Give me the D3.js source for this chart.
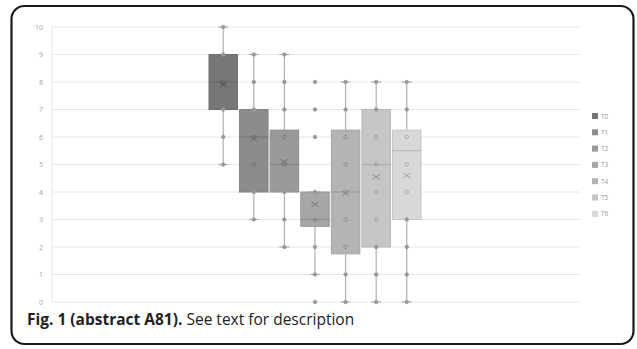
<!DOCTYPE html>
<html><head><meta charset="utf-8">
<script src="https://cdn.jsdelivr.net/npm/d3@7"></script>
<style>body{margin:0;background:#fff;}svg{display:block;}</style>
</head><body>
<svg id="c" width="637" height="349"></svg>
<script>
const series = ["T0","T1","T2","T3","T4","T5","T6"];
const q1     = [7, 4, 4, 2.75, 1.75, 2, 3];
const median = [8, 6, 5, 3, 4, 5, 5.5];
const q3     = [9, 7, 6.25, 4, 6.25, 7, 6.25];
const means  = [7.9, 5.95, 5.1, 3.55, 3.95, 4.55, 4.6];
const whiskLo= [5, 3, 2, 1, 0, 0, 0];
const whiskHi= [10, 9, 9, 4, 8, 8, 8];
const points = [
  [5,6,7,8,9,10],
  [3,4,5,6,7,8,9],
  [2,3,4,5,6,7,8,9],
  [0,1,2,3,4,6,7,8],
  [0,1,2,3,4,5,6,7,8],
  [0,1,2,3,4,5,6,7,8],
  [0,1,2,3,4,5,6,7,8]
];
const colors = ["#777777","#8c8c8c","#999999","#a6a6a6","#b4b4b4","#c6c6c6","#d8d8d8"];
const yTicks = [0,1,2,3,4,5,6,7,8,9,10];

const svg = d3.select("#c");
svg.append("rect").attr("x",11.5).attr("y",6).attr("width",622).attr("height",338)
  .attr("rx",13).attr("fill","#fff").attr("stroke","#1a1a1a").attr("stroke-width",2.2);

const pL=52, pR=580, pT=27, pB=302;
const y = d3.scaleLinear().domain([0,10]).range([pB,pT]);
const x = d3.scaleBand().domain(series).range([209, 421]).paddingInner(0.07);

svg.append("g").selectAll("line").data(yTicks).join("line")
  .attr("x1",pL).attr("x2",pR).attr("y1",d=>y(d)).attr("y2",d=>y(d))
  .attr("stroke","#e6e6e6").attr("stroke-width",1);
svg.append("line").attr("x1",pL).attr("x2",pL).attr("y1",pT).attr("y2",pB)
  .attr("stroke","#e6e6e6");

const ax = svg.append("g").attr("transform",`translate(${pL},0)`)
  .call(d3.axisLeft(y).tickValues(yTicks).tickSize(0).tickPadding(9));
ax.select(".domain").remove();
ax.selectAll("text").attr("fill","#a0a0a0").style("font-family","Open Sans, sans-serif").style("font-size","7px");

series.forEach((s,i)=>{
  const g = svg.append("g");
  const cx = x(s)+x.bandwidth()/2, w = x.bandwidth();
  const wc = "#b0b0b0";
  g.append("line").attr("x1",cx).attr("x2",cx).attr("y1",y(whiskHi[i])).attr("y2",y(q3[i])).attr("stroke",wc).attr("stroke-width",1.2);
  g.append("line").attr("x1",cx).attr("x2",cx).attr("y1",y(q1[i])).attr("y2",y(whiskLo[i])).attr("stroke",wc).attr("stroke-width",1.2);
  [whiskHi[i],whiskLo[i]].forEach(v=>g.append("line").attr("x1",cx-5).attr("x2",cx+5).attr("y1",y(v)).attr("y2",y(v)).attr("stroke",wc).attr("stroke-width",1.2));
  g.append("rect").attr("x",x(s)).attr("y",y(q3[i])).attr("width",w).attr("height",y(q1[i])-y(q3[i]))
    .attr("fill",colors[i]).attr("stroke",d3.color(colors[i]).darker(0.25)).attr("stroke-width",1);
  g.append("line").attr("x1",x(s)).attr("x2",x(s)+w).attr("y1",y(median[i])).attr("y2",y(median[i]))
    .attr("stroke",d3.color(colors[i]).darker(0.5)).attr("stroke-width",1);
  g.selectAll("circle").data(points[i]).join("circle")
    .attr("cx",cx).attr("cy",d=>y(d)).attr("r",1.8)
    .attr("fill",d=> (d>q1[i] && d<q3[i]) ? "none" : "#999999")
    .attr("stroke",d=> (d>q1[i] && d<q3[i]) ? d3.color(colors[i]).darker(0.8) : "#999999").attr("stroke-width",0.8);
  const my=y(means[i]), m=3.5;
  const mc = d3.color(colors[i]).darker(0.9);
  g.append("path").attr("d",`M${cx-m},${my-m*0.7}L${cx+m},${my+m*0.7}M${cx-m},${my+m*0.7}L${cx+m},${my-m*0.7}`)
    .attr("stroke",mc).attr("stroke-width",1).attr("fill","none");
});

const lg = svg.append("g");
series.forEach((s,i)=>{
  const ly = 116 + i*16.3;
  lg.append("rect").attr("x",592).attr("y",ly-3).attr("width",6).attr("height",6).attr("fill",colors[i]);
  lg.append("text").attr("x",601).attr("y",ly+2.5).text(s).attr("fill","#999")
    .style("font-family","Open Sans, sans-serif").style("font-size","6.5px");
});

const cap = svg.append("text").attr("x",27).attr("y",325)
  .style("font-family","Open Sans, sans-serif").style("font-size","15.5px").attr("fill","#222");
cap.append("tspan").attr("font-weight","bold").text("Fig. 1 (abstract A81).");
cap.append("tspan").text(" See text for description");
</script>
</body></html>
